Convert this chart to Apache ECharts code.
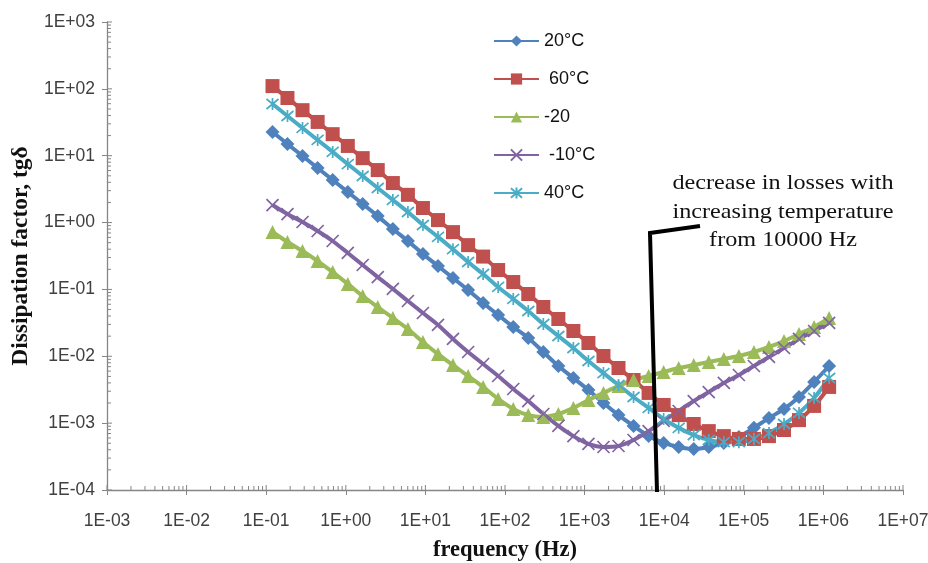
<!DOCTYPE html>
<html>
<head>
<meta charset="utf-8">
<script src="https://cdn.jsdelivr.net/npm/echarts@6/dist/echarts.min.js"></script>
<style>
  html, body { margin: 0; padding: 0; background: #fff; }
  #chart-main { width: 928px; height: 563px; }
</style>
</head>
<body>
<div id="chart-main"></div>
<script>
// frequency points (Hz)
const freqs = [0.12, 0.185, 0.286, 0.443, 0.684, 1.06, 1.63, 2.52, 3.90, 6.03,
  9.31, 14.4, 22.2, 34.4, 53.1, 82.0, 127, 196, 303, 468,
  723, 1117, 1726, 2667, 4121, 6368, 9840, 15200, 23500, 36300,
  56100, 86700, 134000, 207000, 320000, 494000, 764000, 1180000];

const seriesNames = ['20°C', ' 60°C', '-20', ' -10°C', '40°C'];

const tg20 = [22.6, 15.0, 9.9, 6.55, 4.33, 2.87, 1.90, 1.25, 0.80, 0.53,
  0.339, 0.224, 0.148, 0.098, 0.0627, 0.0415, 0.0274, 0.0188, 0.0116, 0.00716,
  0.00474, 0.00313, 0.00200, 0.00132, 0.00091, 0.00064, 0.000505, 0.00044, 0.00041, 0.00044,
  0.000505, 0.00062, 0.00085, 0.00119, 0.00163, 0.00246, 0.00413, 0.00716];

const tg60 = [110, 73, 48, 32, 21, 14, 9.2, 6.1, 3.9, 2.6,
  1.65, 1.09, 0.72, 0.46, 0.31, 0.195, 0.129, 0.0855, 0.0546, 0.0361,
  0.0239, 0.0158, 0.0101, 0.00668, 0.00442, 0.00283, 0.00187, 0.00132, 0.00097, 0.00076,
  0.00064, 0.00058, 0.00058, 0.00064, 0.00079, 0.00111, 0.00181, 0.00348];

const tgMinus20 = [0.723, 0.513, 0.376, 0.266, 0.182, 0.121, 0.0798, 0.0546, 0.0374, 0.0256,
  0.0164, 0.0108, 0.00741, 0.00507, 0.00348, 0.00230, 0.00163, 0.00132, 0.00124, 0.00137,
  0.00169, 0.00222, 0.00283, 0.00360, 0.00442, 0.00507, 0.00582, 0.00668, 0.00741, 0.00822,
  0.00912, 0.0101, 0.0116, 0.0138, 0.0169, 0.0215, 0.0274, 0.0374];

const tgMinus10 = [1.83, 1.34, 1.02, 0.748, 0.530, 0.351, 0.232, 0.153, 0.102, 0.0671,
  0.0444, 0.0294, 0.0182, 0.0116, 0.00767, 0.00507, 0.00324, 0.00214, 0.00137, 0.00091,
  0.00064, 0.00049, 0.00044, 0.000455, 0.00056, 0.00076, 0.00108, 0.00152, 0.00214, 0.00292,
  0.00399, 0.00525, 0.00716, 0.00977, 0.0133, 0.0182, 0.0239, 0.0315];

const tg40 = [59.4, 39.3, 26.0, 17.2, 11.4, 7.5, 4.97, 3.29, 2.18, 1.44,
  0.92, 0.61, 0.40, 0.257, 0.170, 0.109, 0.072, 0.0476, 0.0304, 0.0201,
  0.0133, 0.0085, 0.0056, 0.00372, 0.00246, 0.00169, 0.00115, 0.00085, 0.000665, 0.00056,
  0.00052, 0.00052, 0.00058, 0.00071, 0.00097, 0.00142, 0.00238, 0.00473];

// decade exponents shown on each axis
const xDecades = [-3, -2, -1, 0, 1, 2, 3, 4, 5, 6, 7];
const yDecades = [-4, -3, -2, -1, 0, 1, 2, 3];

const colors = ['#4F81BD', '#C0504D', '#9BBB59', '#8064A2', '#4BACC6'];

const crossPath = 'path://M0,0L10,10M10,0L0,10';
const starPath = 'path://M0,0L10,10M10,0L0,10M5,-1L5,11';

// formats 1000 -> 1E+03
function expLabel(v) {
  const e = Math.round(Math.log10(v));
  return '1E' + (e < 0 ? '-' : '+') + String(Math.abs(e)).padStart(2, '0');
}

function pairs(vals) {
  return freqs.map((f, i) => [f, vals[i]]);
}

// Excel-like tick marks: 1..9 inside each decade (major ones also cross the axis)
function tickValues(decades) {
  const out = [];
  decades.forEach((e, idx) => {
    out.push([Math.pow(10, e), 1]);
    if (idx < decades.length - 1) {
      for (let k = 2; k <= 9; k++) out.push([k * Math.pow(10, e), 0]);
    }
  });
  return out;
}

const dom = document.getElementById('chart-main');
const myChart = echarts.init(dom, null, { renderer: 'canvas' });

const axisGrey = '#868686';
const tickFont = { color: '#404040', fontSize: 17.5, fontFamily: 'Liberation Sans' };

function makeSeries(name, vals, color, symbol, size, stroked) {
  return {
    name: name,
    type: 'line',
    data: pairs(vals),
    smooth: 0.3,
    symbol: symbol,
    symbolSize: size,
    showAllSymbol: true,
    lineStyle: { color: color, width: 4 },
    itemStyle: stroked
      ? { color: color, borderColor: color, borderWidth: 1.7 }
      : { color: color, borderWidth: 0 },
    emphasis: { disabled: true },
    animation: false
  };
}

function tickSeries(values, horizontal) {
  return {
    type: 'custom',
    silent: true,
    clip: false,
    z: 1,
    data: values.map(t => horizontal ? [Math.pow(10, -3), t[0], t[1]] : [t[0], Math.pow(10, -4), t[1]]),
    renderItem: function (params, api) {
      const p = api.coord([api.value(0), api.value(1)]);
      const len = api.value(2) ? 5 : 4;
      const shape = horizontal
        ? { x1: p[0], y1: p[1], x2: p[0] + len, y2: p[1] }
        : { x1: p[0], y1: p[1], x2: p[0], y2: p[1] - len };
      return { type: 'line', shape: shape, style: { stroke: axisGrey, lineWidth: 1 } };
    }
  };
}

var option = {
  backgroundColor: '#fff',
  animation: false,
  color: colors,
  grid: { left: 107, right: 25, top: 22, bottom: 73, outerBoundsMode: 'none', containLabel: false },
  legend: {
    orient: 'vertical',
    left: 488,
    top: 27,
    itemWidth: 45,
    itemHeight: 14,
    itemGap: 20,
    textStyle: { color: '#111', fontSize: 18, fontFamily: 'Liberation Sans' },
    data: seriesNames
  },
  xAxis: {
    type: 'log',
    logBase: 10,
    min: 0.001,
    max: 10000000,
    interval: 1,
    name: 'frequency (Hz)',
    nameLocation: 'middle',
    nameGap: 49,
    nameTextStyle: { fontFamily: 'Liberation Serif', fontWeight: 'bold', fontSize: 22.5, color: '#111' },
    axisLine: { lineStyle: { color: axisGrey, width: 1.3 } },
    axisTick: { inside: false, length: 5, lineStyle: { color: axisGrey } },
    splitLine: { show: false },
    axisLabel: Object.assign({ formatter: expLabel, margin: 22 }, tickFont)
  },
  yAxis: {
    type: 'log',
    logBase: 10,
    min: 0.0001,
    max: 1000,
    interval: 1,
    name: 'Dissipation factor, tgδ',
    nameLocation: 'middle',
    nameGap: 69,
    nameRotate: 90,
    nameTextStyle: { fontFamily: 'Liberation Serif', fontWeight: 'bold', fontSize: 23.5, color: '#111' },
    axisLine: { show: true, lineStyle: { color: axisGrey, width: 1.3 } },
    axisTick: { show: true, inside: false, length: 5, lineStyle: { color: axisGrey } },
    splitLine: { show: false },
    axisLabel: Object.assign({ formatter: expLabel, margin: 12 }, tickFont)
  },
  graphic: [
    {
      type: 'polyline',
      shape: { points: [[657, 492], [650, 233], [700, 226]] },
      style: { stroke: '#000', lineWidth: 4, fill: null },
      z: 100
    },
    {
      type: 'text',
      x: 783,
      y: 169,
      scaleX: 1.1,
      style: {
        text: 'decrease in losses with\nincreasing temperature\nfrom 10000 Hz',
        align: 'center',
        verticalAlign: 'top',
        lineHeight: 28.5,
        fontFamily: 'Liberation Serif',
        fontSize: 22,
        fill: '#111'
      },
      z: 100
    }
  ],
  series: [
    tickSeries(tickValues(xDecades), false),
    tickSeries(tickValues(yDecades), true),
    makeSeries(seriesNames[0], tg20, colors[0], 'diamond', 14, false),
    makeSeries(seriesNames[1], tg60, colors[1], 'rect', 14, false),
    makeSeries(seriesNames[2], tgMinus20, colors[2], 'triangle', 14, false),
    makeSeries(seriesNames[3], tgMinus10, colors[3], crossPath, 12, true),
    makeSeries(seriesNames[4], tg40, colors[4], starPath, 12, true)
  ]
};

option && myChart.setOption(option);
window.addEventListener('resize', myChart.resize);
</script>
</body>
</html>
